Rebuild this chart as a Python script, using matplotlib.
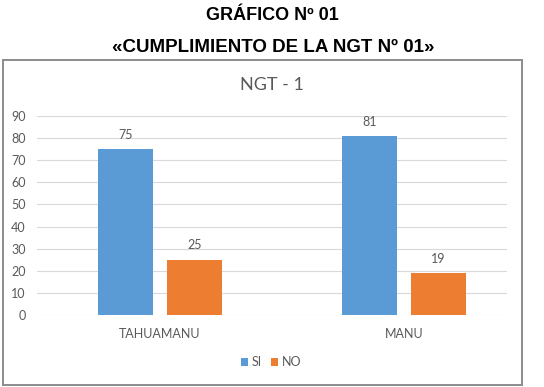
import matplotlib.pyplot as plt
from matplotlib.patches import Rectangle
import numpy as np

categorias = ["TAHUAMANU", "MANU"]
si = [75, 81]
no = [25, 19]
yticks = [0, 10, 20, 30, 40, 50, 60, 70, 80, 90]

W, H = 544, 387
fig = plt.figure(figsize=(W / 100, H / 100), dpi=100)
fig.patch.set_facecolor('white')

def px(x, y):
    return x / W, 1 - y / H

# titulos
fig.text(*px(272, 16), "GRÁFICO Nº 01", ha='center', va='center',
         fontsize=13, fontweight='bold', family='Liberation Sans')
fig.text(*px(273, 47), "«CUMPLIMIENTO DE LA NGT Nº 01»", ha='center', va='center',
         fontsize=13.5, fontweight='bold', family='Liberation Sans')

# marco del grafico
fig.patches.append(Rectangle(px(3, 385), 519 / W, 325 / H, transform=fig.transFigure,
                             fill=False, edgecolor='#8c8c8c', linewidth=1.4))
fig.text(*px(272, 85), "NGT - 1", ha='center', va='center',
         fontsize=13, color='#595959', family='Lato')

# ejes: y=0 en 315 px, y=90 en 116 px
x0, x1 = 37, 507
ax = fig.add_axes([x0 / W, 1 - 315 / H, (x1 - x0) / W, (315 - 116) / H])
ax.set_ylim(0, 90)
ax.set_xlim(-123 / 244, 1 + 103 / 244)

x = np.arange(len(categorias))
bw = 0.225
off = 0.14
b1 = ax.bar(x - off, si, bw, color='#5B9BD5', label='SI', zorder=3)
b2 = ax.bar(x + off, no, bw, color='#ED7D31', label='NO', zorder=3)
for bars in (b1, b2):
    ax.bar_label(bars, padding=6, fontsize=9, color='#595959', family='Lato')

ax.set_yticks(yticks)
ax.yaxis.grid(True, color='#d9d9d9', linewidth=0.8, zorder=0)
ax.tick_params(axis='y', length=0, pad=8, labelsize=9, labelcolor='#595959')
ax.set_xticks(x)
ax.set_xticklabels(categorias)
ax.tick_params(axis='x', length=0, pad=9, labelsize=9, labelcolor='#595959')
for lbl in ax.get_xticklabels() + ax.get_yticklabels():
    lbl.set_family('Lato')
for s in ax.spines.values():
    s.set_visible(False)

leg = fig.legend(handles=[b1, b2], labels=['SI', 'NO'], loc='center',
                 bbox_to_anchor=px(271, 362), ncol=2, frameon=False,
                 prop={'family': 'Lato', 'size': 9}, handlelength=0.6,
                 handleheight=0.6, handletextpad=0.3, columnspacing=0.7)
for t in leg.get_texts():
    t.set_color('#595959')

plt.savefig("out.png", dpi=100)
